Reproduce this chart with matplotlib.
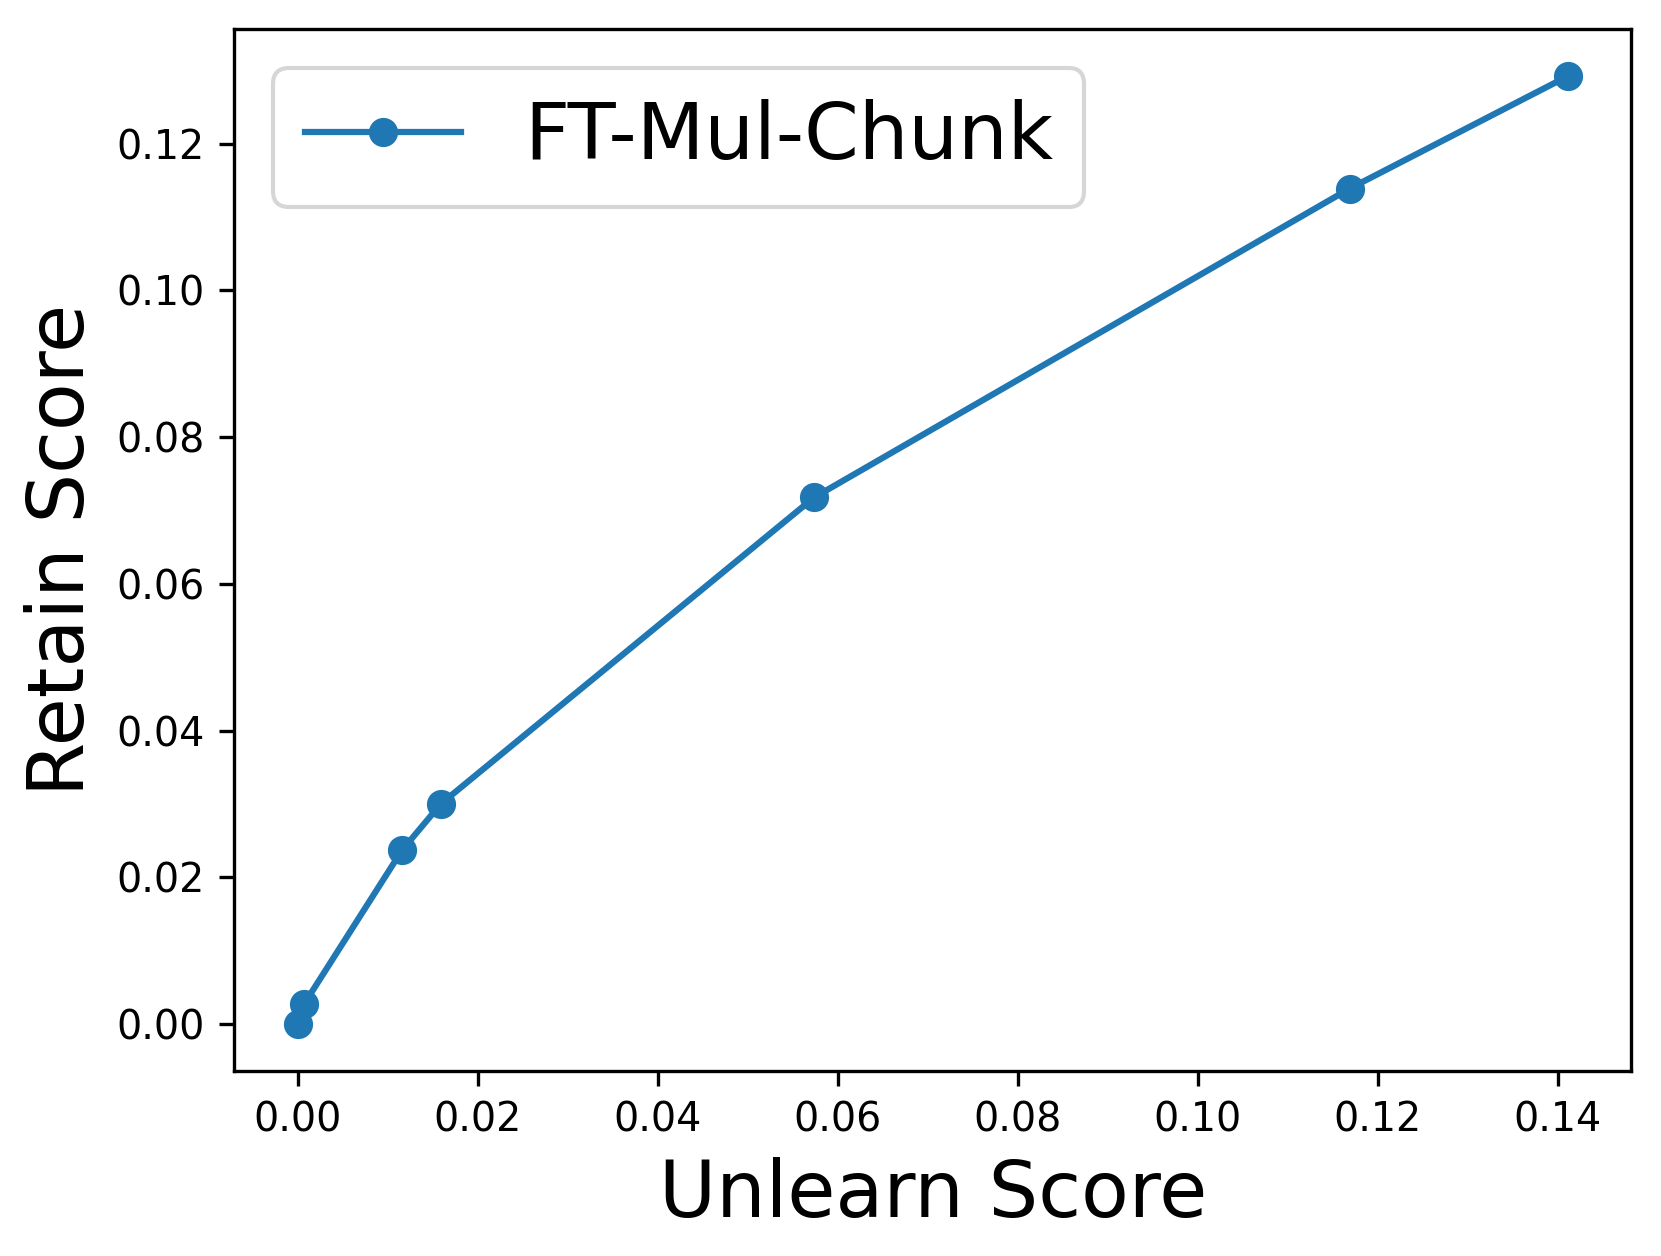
import matplotlib
matplotlib.use("Agg")
import matplotlib.pyplot as plt

# values
unlearn = [0.0, 0.0007, 0.0116, 0.0159, 0.0574, 0.1169, 0.1411]
retain = [0.0, 0.0027, 0.0237, 0.0300, 0.0718, 0.1139, 0.1292]
label = "FT-Mul-Chunk"

fig = plt.figure(figsize=(1661 / 300, 1256 / 300), dpi=300)
ax = fig.add_axes([0.141, 0.147, 0.841, 0.830])

ax.plot(unlearn, retain, marker="o", color="#1f77b4", label=label)

ax.set_xlabel("Unlearn Score", fontsize=18.75)
ax.set_ylabel("Retain Score", fontsize=18.75)
ax.tick_params(labelsize=9.5)
ax.set_xticks([0.00, 0.02, 0.04, 0.06, 0.08, 0.10, 0.12, 0.14])
ax.set_yticks([0.00, 0.02, 0.04, 0.06, 0.08, 0.10, 0.12])
ax.legend(loc="upper left", fontsize=18.8)

fig.savefig("out.png", dpi=300)
